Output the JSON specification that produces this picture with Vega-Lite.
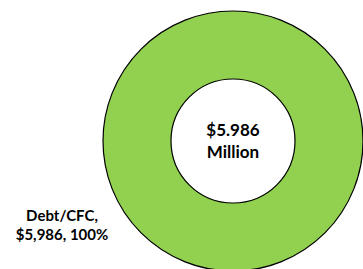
{
  "$schema": "https://vega.github.io/schema/vega-lite/v6.json",
  "width": 260,
  "height": 260,
  "autosize": "none",
  "padding": {"left": 103, "top": 11, "right": 0, "bottom": 0},
  "background": "white",
  "view": {"stroke": null},
  "data": {
    "values": [
      {"category": "Debt/CFC", "value": 5986, "label": ["Debt/CFC,", "$5,986, 100%"], "center": ["$5.986", "Million"]}
    ]
  },
  "layer": [
    {
      "mark": {"type": "arc", "innerRadius": 62, "outerRadius": 130, "stroke": "black", "strokeWidth": 1.2, "color": "#92D050"},
      "encoding": {
        "theta": {"field": "value", "type": "quantitative"},
        "color": {"value": "#92D050"}
      }
    },
    {
      "mark": {"type": "text", "font": "Lato", "fontWeight": "bold", "fontSize": 17, "lineHeight": 22, "baseline": "alphabetic", "align": "center", "dy": -5, "color": "black"},
      "encoding": {"text": {"field": "center", "type": "nominal"}}
    },
    {
      "mark": {"type": "text", "font": "Lato", "fontWeight": "bold", "fontSize": 15, "lineHeight": 19, "baseline": "alphabetic", "align": "center", "dx": -171, "dy": 80, "color": "black"},
      "encoding": {"text": {"field": "label", "type": "nominal"}}
    }
  ]
}
